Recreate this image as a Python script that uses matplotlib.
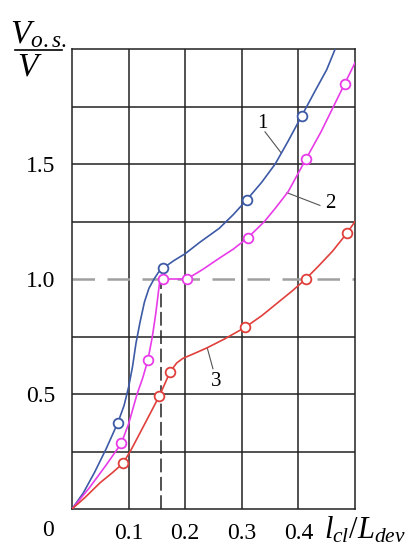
import numpy as np
import matplotlib
matplotlib.use("Agg")
import matplotlib.pyplot as plt
from matplotlib.lines import Line2D

plt.rcParams['font.family'] = ['Liberation Serif', 'DejaVu Serif']
plt.rcParams['mathtext.fontset'] = 'custom'
plt.rcParams['mathtext.rm'] = 'Liberation Serif'
plt.rcParams['mathtext.it'] = 'Liberation Serif:italic'

# curve 1 (blue)
x1 = [0, 0.02, 0.04, 0.06, 0.081, 0.092, 0.1, 0.107, 0.113, 0.12, 0.128,
      0.136, 0.145, 0.153, 0.161, 0.18, 0.2, 0.226, 0.26, 0.285, 0.309,
      0.335, 0.359, 0.382, 0.406, 0.43, 0.45, 0.465]
y1 = [0, 0.07, 0.16, 0.26, 0.375, 0.45, 0.53, 0.62, 0.72, 0.81, 0.9,
      0.96, 1.0, 1.03, 1.047, 1.08, 1.11, 1.16, 1.22, 1.28, 1.345,
      1.42, 1.5, 1.6, 1.71, 1.82, 1.91, 2.0]
m1x = [0.081, 0.161, 0.309, 0.406]
m1y = [0.375, 1.047, 1.345, 1.71]

# curve 2 (magenta)
x2 = [0, 0.03, 0.06, 0.087, 0.1, 0.115, 0.125, 0.134, 0.142, 0.148, 0.152,
      0.155, 0.161, 0.203, 0.23, 0.26, 0.285, 0.311, 0.34, 0.36, 0.382,
      0.413, 0.44, 0.462, 0.482, 0.5]
y2 = [0, 0.09, 0.19, 0.285, 0.37, 0.5, 0.57, 0.647, 0.75, 0.85, 0.93,
      0.99, 1.0, 1.0, 1.04, 1.09, 1.13, 1.18, 1.25, 1.31, 1.38,
      1.52, 1.64, 1.75, 1.85, 1.94]
m2x = [0.087, 0.134, 0.161, 0.203, 0.311, 0.413, 0.482]
m2y = [0.285, 0.647, 1.0, 1.0, 1.18, 1.52, 1.85]

# curve 3 (red)
x3 = [0, 0.023, 0.05, 0.07, 0.09, 0.105, 0.12, 0.137, 0.154, 0.165, 0.173,
      0.185, 0.196, 0.215, 0.238, 0.27, 0.306, 0.335, 0.36, 0.39, 0.413,
      0.435, 0.46, 0.486, 0.5]
y3 = [0, 0.05, 0.115, 0.155, 0.198, 0.26, 0.33, 0.41, 0.49, 0.55, 0.595,
      0.635, 0.655, 0.675, 0.70, 0.74, 0.79, 0.84, 0.89, 0.95, 1.0,
      1.055, 1.12, 1.2, 1.25]
m3x = [0.09, 0.154, 0.173, 0.306, 0.413, 0.486]
m3y = [0.198, 0.49, 0.595, 0.79, 1.0, 1.2]

xticks = [0.1, 0.2, 0.3, 0.4]
yticks = [0.5, 1.0, 1.5]

c1 = '#3d5aa6'
c2 = '#e83ce8'
c3 = '#e0403c'

fig = plt.figure(figsize=(4.15, 5.5), dpi=100)
ax = fig.add_axes([72/415, 1-509/550, 283/415, 460/550])
ax.set_xlim(0, 0.5)
ax.set_ylim(0, 2.0)

# grid
for gx in np.arange(0.1, 0.5, 0.1):
    ax.axvline(gx, color='#222222', lw=1.1, zorder=1)
for gy in np.arange(0.25, 2.0, 0.25):
    if abs(gy - 1.0) > 1e-6:
        ax.axhline(gy, color='#222222', lw=1.1, zorder=1)
ax.axhline(1.0, color='#a0a0a0', lw=1.8, dashes=(9, 5), zorder=1)
ax.plot([0.157, 0.157], [0, 1.0], color='#222222', lw=1.1, dashes=(9, 3), zorder=1)

for s in ax.spines.values():
    s.set_color('#222222')
    s.set_linewidth(1.1)

ax.plot(x1, y1, color=c1, lw=1.2, zorder=3)
ax.plot(x2, y2, color=c2, lw=1.2, zorder=3)
ax.plot(x3, y3, color=c3, lw=1.2, zorder=3)
ax.plot(m1x, m1y, 'o', ms=7, mfc='white', mec=c1, mew=1.3, zorder=4)
ax.plot(m2x, m2y, 'o', ms=7, mfc='white', mec=c2, mew=1.3, zorder=4)
ax.plot(m3x, m3y, 'o', ms=7, mfc='white', mec=c3, mew=1.3, zorder=4)

ax.set_xticks(xticks)
ax.set_yticks(yticks)
ax.set_xticklabels([f"{v:.1f}" for v in xticks])
ax.set_yticklabels([f"{v:.1f}" for v in yticks])
ax.tick_params(length=0, labelsize=17, pad=12)
ax.tick_params(axis='x', pad=10)

# curve labels with leaders
ax.text(0.336, 1.677, "1", fontsize=15, ha='center', va='center')
ax.plot([0.341, 0.369], [1.64, 1.55], color='#555555', lw=0.8)
ax.text(0.456, 1.33, "2", fontsize=15, ha='center', va='center')
ax.plot([0.438, 0.38], [1.32, 1.375], color='#555555', lw=0.8)
ax.text(0.255, 0.555, "3", fontsize=15, ha='center', va='center')
ax.plot([0.249, 0.239], [0.61, 0.70], color='#555555', lw=0.8)

# origin label
fig.text(48/415, 1-530/550, "0", fontsize=17, ha='center', va='center')

# axis labels
fig.text(365/415, 1-530/550, r"$l_{cl}/L_{dev}$", fontsize=22, ha='center', va='center')
fig.text(38/415, 1-35/550, r"$V_{o.s.}$", fontsize=24, ha='center', va='center')
fig.add_artist(Line2D([15/415, 62/415], [1-50/550, 1-50/550], color='black', lw=1.2))
fig.text(30/415, 1-67/550, r"$V$", fontsize=24, ha='center', va='center')

fig.savefig("out.png", dpi=100)
